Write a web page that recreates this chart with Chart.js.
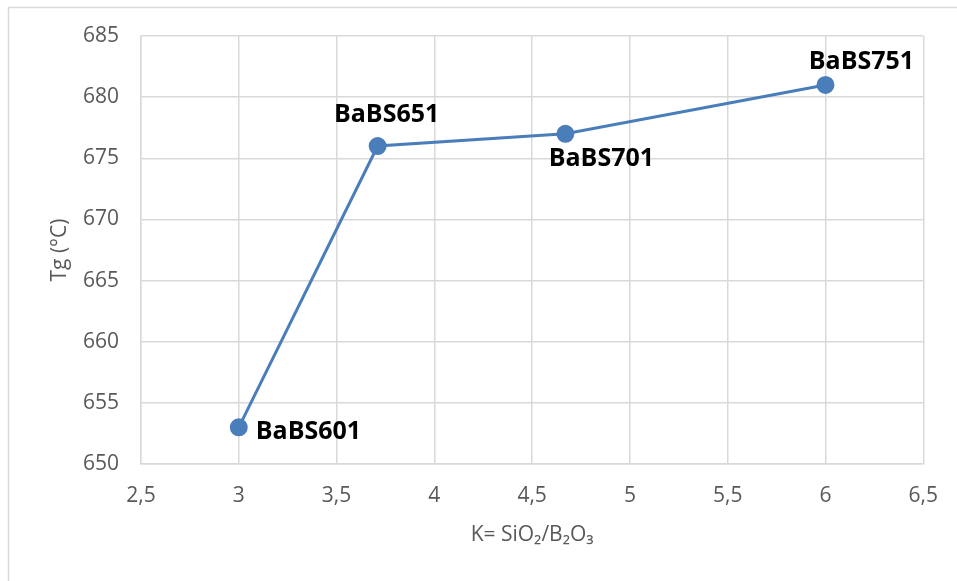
<!DOCTYPE html>
<html>
<head>
<meta charset="utf-8">
<script src="https://cdn.jsdelivr.net/npm/chart.js@4/dist/chart.umd.min.js"></script>
<style>
html,body{margin:0;padding:0;background:#fff;}
#wrap{width:957px;height:581px;position:relative;}
</style>
</head>
<body>
<div id="wrap"><canvas id="c" width="957" height="581"></canvas></div>
<script>
// Data
const kValues = [3, 3.71, 4.67, 6];
const tgValues = [653, 676, 677, 681];
const sampleNames = ['BaBS601', 'BaBS651', 'BaBS701', 'BaBS751'];
const xTitle = 'K= SiO₂/B₂O₃';
const yTitle = 'Tg (°C)';

// label offsets relative to each point (style only)
const labelOffsets = [[17, 5, 'left'], [9, -31, 'center'], [36, 25, 'center'], [36, -23, 'center']];

const borderPlugin = {
  id: 'outerBorder',
  beforeDraw(chart) {
    const ctx = chart.ctx;
    ctx.save();
    ctx.fillStyle = '#fff';
    ctx.fillRect(0, 0, chart.width, chart.height);
    ctx.strokeStyle = '#d9d9d9';
    ctx.lineWidth = 1.5;
    ctx.beginPath();
    ctx.moveTo(8.5, chart.height);
    ctx.lineTo(8.5, 7.5);
    ctx.lineTo(chart.width, 7.5);
    ctx.stroke();
    ctx.restore();
  }
};

const titlePlugin = {
  id: 'axisTitles',
  afterDraw(chart) {
    const ctx = chart.ctx;
    const a = chart.chartArea;
    ctx.save();
    ctx.fillStyle = '#595959';
    ctx.font = '21px "Open Sans"';
    ctx.textAlign = 'center';
    ctx.textBaseline = 'middle';
    ctx.fillText(xTitle, (a.left + a.right) / 2, 535);
    ctx.translate(60, (a.top + a.bottom) / 2);
    ctx.rotate(-Math.PI / 2);
    ctx.fillText(yTitle, 0, 0);
    ctx.restore();
  }
};

const labelPlugin = {
  id: 'pointLabels',
  afterDatasetsDraw(chart) {
    const ctx = chart.ctx;
    const meta = chart.getDatasetMeta(0);
    ctx.save();
    ctx.font = 'bold 25px "Open Sans"';
    ctx.fillStyle = '#000';
    ctx.textBaseline = 'middle';
    meta.data.forEach((pt, i) => {
      const o = labelOffsets[i];
      ctx.textAlign = o[2];
      ctx.fillText(sampleNames[i], pt.x + o[0], pt.y + o[1]);
    });
    ctx.restore();
  }
};

new Chart(document.getElementById('c'), {
  type: 'scatter',
  data: {
    datasets: [{
      data: kValues.map((k, i) => ({x: k, y: tgValues[i]})),
      showLine: true,
      borderColor: '#4a7ebb',
      backgroundColor: '#4a7ebb',
      borderWidth: 3,
      pointRadius: 7.5,
      pointHoverRadius: 7.5
    }]
  },
  options: {
    responsive: false,
    animation: false,
    layout: {padding: {left: 0, top: 36, right: 32, bottom: 0}},
    plugins: {legend: {display: false}, tooltip: {enabled: false}},
    scales: {
      x: {
        type: 'linear',
        min: 2.5, max: 6.5,
        ticks: {
          stepSize: 0.5,
          color: '#595959',
          font: {family: '"Open Sans"', size: 21},
          padding: 19,
          callback: v => String(v).replace('.', ',')
        },
        grid: {color: '#d9d9d9', lineWidth: 1.5, drawTicks: false},
        border: {color: '#d9d9d9', width: 1.5},
        afterFit(s) { s.height = 117; }
      },
      y: {
        min: 650, max: 685,
        ticks: {
          stepSize: 5,
          color: '#595959',
          font: {family: '"Open Sans"', size: 21},
          padding: 22
        },
        grid: {color: '#d9d9d9', lineWidth: 1.5, drawTicks: false},
        border: {color: '#d9d9d9', width: 1.5},
        afterFit(s) { s.width = 141; }
      }
    }
  },
  plugins: [borderPlugin, titlePlugin, labelPlugin]
});
</script>
</body>
</html>
